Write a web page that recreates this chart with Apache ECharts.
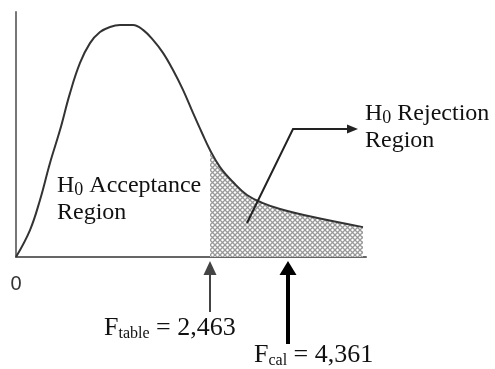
<!DOCTYPE html>
<html>
<head>
<meta charset="utf-8">
<script src="https://cdn.jsdelivr.net/npm/echarts@6/dist/echarts.min.js"></script>
<style>
  html, body { margin: 0; padding: 0; background: #fff; }
  #chart { width: 495px; height: 369px; }
</style>
</head>
<body>
<div id="chart"></div>
<script>
// F-distribution curve (x in drawing units, y in relative density)
const curveX = [0, 0.28, 0.48, 0.68, 0.88, 1.08, 1.28, 1.48, 1.68, 1.88, 2.08, 2.34, 2.54, 2.74, 2.94, 3.14, 3.34, 3.54, 3.72, 3.88, 4.08, 4.34, 4.62, 4.94, 5.28, 5.94, 6.94];
const curveY = [0, 0.110, 0.233, 0.384, 0.518, 0.669, 0.792, 0.873, 0.918, 0.939, 0.947, 0.947, 0.927, 0.886, 0.833, 0.763, 0.682, 0.588, 0.506, 0.437, 0.367, 0.306, 0.253, 0.220, 0.196, 0.163, 0.122];
// critical points (position on the drawing, and their printed values)
const markNames = ['table', 'cal'];
const markPos = [3.88, 5.44];
const markValues = ['2,463', '4,361'];
const tickLabels = ['0'];

const curveData = curveX.map((x, i) => [x, curveY[i]]);
const rejectData = curveData.filter(p => p[0] >= markPos[0]);

// crosshatch fill for the rejection region
const hatch = document.createElement('canvas');
hatch.width = 5; hatch.height = 5;
const hc = hatch.getContext('2d');
hc.fillStyle = '#fff';
hc.fillRect(0, 0, 5, 5);
hc.strokeStyle = '#999';
hc.lineWidth = 1.3;
hc.beginPath();
hc.moveTo(0, 0); hc.lineTo(5, 5);
hc.moveTo(5, 0); hc.lineTo(0, 5);
hc.stroke();

const chart = echarts.init(document.getElementById('chart'));
const serif = '"Liberation Serif", "Times New Roman", serif';

chart.setOption({
  animation: false,
  grid: { left: 16, top: 12, width: 350, height: 245, outerBoundsMode: 'none' },
  xAxis: {
    type: 'value', min: 0, max: 7, interval: 1,
    axisLine: { lineStyle: { color: '#666', width: 2 } },
    axisTick: { show: false },
    splitLine: { show: false },
    axisLabel: {
      margin: 17,
      fontFamily: '"Liberation Sans", Arial, sans-serif',
      fontSize: 20, color: '#333',
      formatter: v => (v === 0 ? tickLabels[0] : '')
    }
  },
  yAxis: {
    type: 'value', min: 0, max: 1,
    axisLine: { show: true, lineStyle: { color: '#777', width: 2 } },
    axisTick: { show: false },
    axisLabel: { show: false },
    splitLine: { show: false }
  },
  series: [
    {
      type: 'line',
      data: rejectData,
      smooth: 0.4,
      symbol: 'none',
      lineStyle: { width: 0 },
      areaStyle: { color: { image: hatch, repeat: 'repeat' }, opacity: 1 },
      z: 1
    },
    {
      type: 'line',
      data: curveData,
      smooth: 0.4,
      symbol: 'none',
      lineStyle: { color: '#333', width: 2 },
      z: 2
    }
  ]
});

const px = (x, y) => chart.convertToPixel({ gridIndex: 0 }, [x, y]);
const axisY = px(0, 0)[1];

const graphics = [];
// upward arrows under the axis
const arrowStyle = [
  { color: '#444', shaft: 2, half: 6.5, len: 51 },
  { color: '#000', shaft: 4, half: 8.5, len: 83 }
];
markPos.forEach((m, i) => {
  const x = px(m, 0)[0];
  const s = arrowStyle[i];
  const tip = axisY + 4;
  graphics.push({
    type: 'polygon', z: 100,
    shape: { points: [[x, tip], [x - s.half, tip + 14], [x + s.half, tip + 14]] },
    style: { fill: s.color }
  });
  graphics.push({
    type: 'line', z: 100,
    shape: { x1: x, y1: tip + 13, x2: x, y2: tip + s.len },
    style: { stroke: s.color, lineWidth: s.shaft }
  });
});

// pointer into the rejection region
const p0 = px(4.62, 0.139), p1 = px(5.54, 0.522), p2 = px(6.82, 0.522);
graphics.push({
  type: 'polyline', z: 100,
  shape: { points: [p0, p1, [p2[0] - 8, p2[1]]] },
  style: { stroke: '#222', lineWidth: 2, fill: null }
});
graphics.push({
  type: 'polygon', z: 100,
  shape: { points: [[p2[0] + 1, p2[1]], [p2[0] - 10, p2[1] - 4.5], [p2[0] - 10, p2[1] + 4.5]] },
  style: { fill: '#222' }
});

const rich = {
  a: { fontFamily: serif, fontSize: 24, lineHeight: 27, fill: '#111' },
  s: { fontFamily: serif, fontSize: 18, lineHeight: 19, verticalAlign: 'bottom', fill: '#111' },
  b: { fontFamily: serif, fontSize: 26, lineHeight: 28, fill: '#111' },
  t: { fontFamily: serif, fontSize: 16, lineHeight: 17, verticalAlign: 'bottom', fill: '#111' }
};

graphics.push({
  type: 'text', x: 57, y: 172, z: 100,
  style: { text: '{a|H}{s|0}{a| Acceptance}\n{a|Region}', rich: rich, verticalAlign: 'top' }
});
graphics.push({
  type: 'text', x: 365, y: 100, z: 100,
  style: { text: '{a|H}{s|0}{a| Rejection}\n{a|Region}', rich: rich, verticalAlign: 'top' }
});
graphics.push({
  type: 'text', x: 104, y: 314, z: 100,
  style: { text: '{b|F}{t|' + markNames[0] + '}{b| = ' + markValues[0] + '}', rich: rich, verticalAlign: 'top' }
});
graphics.push({
  type: 'text', x: 254, y: 341, z: 100,
  style: { text: '{b|F}{t|' + markNames[1] + '}{b| = ' + markValues[1] + '}', rich: rich, verticalAlign: 'top' }
});

chart.setOption({ graphic: graphics });
</script>
</body>
</html>
